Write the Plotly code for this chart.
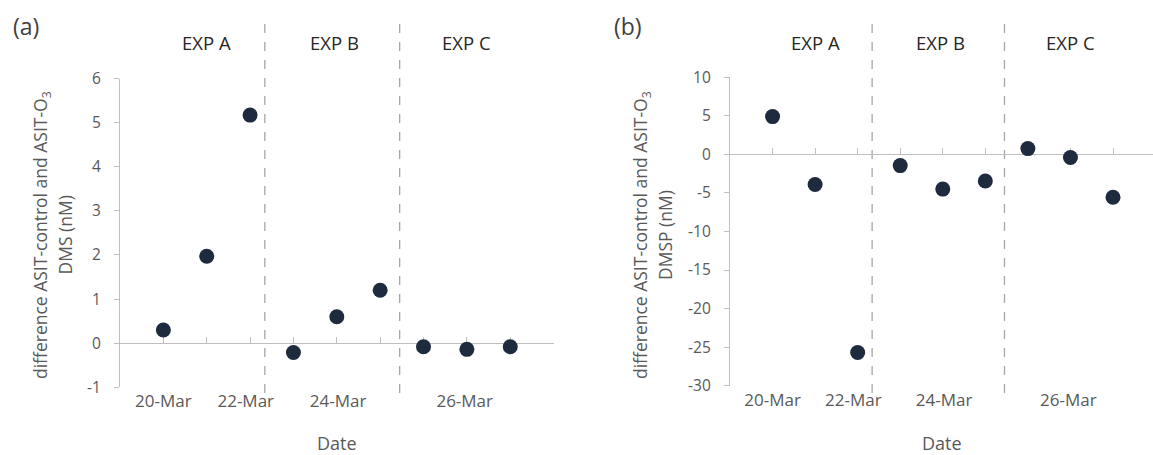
import plotly.graph_objects as go

# ---- data ----
positions = [1, 2, 3, 4, 5, 6, 7, 8, 9]
dms_diff = [0.30, 1.97, 5.17, -0.21, 0.60, 1.20, -0.08, -0.14, -0.08]
dmsp_diff = [4.9, -3.9, -25.7, -1.45, -4.5, -3.45, 0.75, -0.4, -5.55]
date_tick_pos = [1, 2.9, 5.03, 7.95]
date_tick_text = ["20-Mar", "22-Mar", "24-Mar", "26-Mar"]
dms_ticks = [-1, 0, 1, 2, 3, 4, 5, 6]
dmsp_ticks = [-30, -25, -20, -15, -10, -5, 0, 5, 10]
exp_labels = ["EXP A", "EXP B", "EXP C"]
exp_label_pos = [2, 4.95, 8]
exp_boundaries = [3.34, 6.45]

W, H = 1153, 455
GRAY_TXT = "#595959"
AXIS = "#bfbfbf"
MARK = "#1e2a3d"
FONT = "Open Sans"

def px_x(p):
    return p / W

def px_y(p):
    return (H - p) / H

# panel geometry (pixels)
L = dict(x0=120, x1=553.6, ytop=78.5, ybot=387.3, yr=[-1, 6], xr=[0, 10], ticks=dms_ticks)
R = dict(x0=730, x1=1153, ytop=77.3, ybot=385.7, yr=[-30, 10], xr=[0, 9.94], ticks=dmsp_ticks)

fig = go.Figure()

# invisible traces to anchor zero-line axes
fig.add_trace(go.Scatter(x=positions, y=dms_diff, mode="markers", xaxis="x3", yaxis="y",
                         marker=dict(size=1, opacity=0), showlegend=False, hoverinfo="skip"))
fig.add_trace(go.Scatter(x=positions, y=dmsp_diff, mode="markers", xaxis="x4", yaxis="y2",
                         marker=dict(size=1, opacity=0), showlegend=False, hoverinfo="skip"))
fig.add_trace(go.Scatter(x=positions, y=dms_diff, mode="markers", xaxis="x", yaxis="y",
                         marker=dict(size=15, color=MARK), showlegend=False))
fig.add_trace(go.Scatter(x=positions, y=dmsp_diff, mode="markers", xaxis="x2", yaxis="y2",
                         marker=dict(size=15, color=MARK), showlegend=False))

def xax(P, overlay=None, pos=None):
    d = dict(domain=[px_x(P["x0"]), px_x(P["x1"])], range=P["xr"], showgrid=False, zeroline=False,
             fixedrange=True, automargin=False)
    if overlay is None:
        d.update(tickmode="array", tickvals=date_tick_pos, ticktext=date_tick_text, ticks="",
                 showline=False, tickfont=dict(family=FONT, size=17, color=GRAY_TXT),
                 ticklabelstandoff=2)
    else:
        d.update(overlaying=overlay, anchor="free", position=pos, tickmode="linear", tick0=0, dtick=1,
                 ticks="inside", ticklen=6, tickcolor=AXIS, tickwidth=1.3, showticklabels=False,
                 showline=True, linecolor=AXIS, linewidth=1.3, layer="below traces")
    return d

def yax(P, anchor):
    return dict(domain=[px_y(P["ybot"]), px_y(P["ytop"])], range=P["yr"],
                tickmode="array", tickvals=P["ticks"], ticktext=[str(t) for t in P["ticks"]],
                anchor=anchor, showgrid=False, zeroline=False, showline=True, linecolor=AXIS,
                linewidth=1.3, ticks="outside", ticklen=5, tickcolor=AXIS, tickwidth=1.3,
                tickfont=dict(family=FONT, size=15.5, color=GRAY_TXT), ticklabelstandoff=10,
                fixedrange=True, automargin=False)

def zero_pos(P):
    frac = (0 - P["yr"][0]) / (P["yr"][1] - P["yr"][0])
    return px_y(P["ybot"]) + frac * (px_y(P["ytop"]) - px_y(P["ybot"]))

fig.update_layout(
    width=W, height=H, margin=dict(l=0, r=0, t=0, b=0, autoexpand=False),
    plot_bgcolor="white", paper_bgcolor="white",
    xaxis=dict(**xax(L), anchor="y"),
    xaxis2=dict(**xax(R), anchor="y2"),
    xaxis3=xax(L, overlay="x", pos=zero_pos(L)),
    xaxis4=xax(R, overlay="x2", pos=zero_pos(R)),
    yaxis=yax(L, "x"),
    yaxis2=yax(R, "x2"),
)

shapes = []
annotations = []

def ann(text, x, y, xref="paper", size=17, color=GRAY_TXT, angle=0):
    return dict(text=text, x=x, y=y, xref=xref, yref="paper", showarrow=False,
                xanchor="center", yanchor="middle", textangle=angle,
                font=dict(family=FONT, size=size, color=color))

for P, xr, tag, tagx, ytxt, t1x, t2x in [
    (L, "x", "(a)", 26, "DMS (nM)", 42, 64.5),
    (R, "x2", "(b)", 628, "DMSP (nM)", 642, 665),
]:
    for b in exp_boundaries:
        shapes.append(dict(type="line", xref=xr, yref="paper", x0=b, x1=b,
                           y0=px_y(393), y1=px_y(15), layer="below",
                           line=dict(color="#a6a6a6", width=1.3, dash="dash")))
    for lab, pos in zip(exp_labels, exp_label_pos):
        annotations.append(ann(lab, pos, px_y(42), xref=xr, size=18.5, color="#262626"))
    xc = (P["x0"] + P["x1"]) / 2
    annotations.append(ann("Date", px_x(xc), px_y(443), size=18))
    annotations.append(ann(tag, px_x(tagx), px_y(26), size=23, color="#404040"))
    yc = px_y(235)
    annotations.append(ann("difference ASIT-control and ASIT-O<sub>3</sub>", px_x(t1x), yc,
                           size=17.5, angle=-90))
    annotations.append(ann(ytxt, px_x(t2x), yc, size=17.5, angle=-90))

fig.update_layout(shapes=shapes, annotations=annotations)
fig.write_html("out.html", config={"displayModeBar": False},
               post_script="document.body.style.margin='0';document.body.style.overflow='hidden';")
